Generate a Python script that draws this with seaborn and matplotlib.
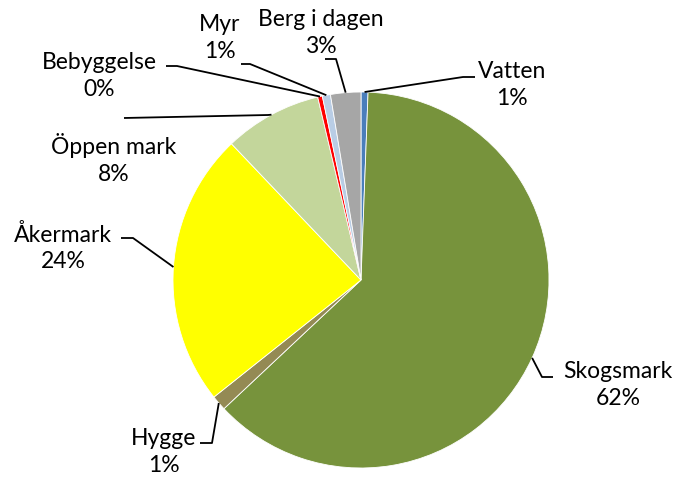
import numpy as np
import matplotlib.pyplot as plt
import seaborn as sns

# Andelar i procent (medurs från kl. 12)
kategorier = ['Vatten', 'Skogsmark', 'Hygge', 'Åkermark', 'Öppen mark',
              'Bebyggelse', 'Myr', 'Berg i dagen']
andelar = [0.6, 62.4, 1.3, 23.6, 8.4, 0.4, 0.7, 2.6]
etiketter = ['1%', '62%', '1%', '24%', '8%', '0%', '1%', '3%']
farger = ['#4a7ebb', '#77933c', '#948a54', '#ffff00', '#c3d69b',
          '#ff0000', '#b9cde5', '#a6a6a6']

# Etikettplacering i pixlar: textcentrum, knäpunkt, ände vid texten
layout = {
    'Vatten':       dict(text=(512, 85), knae=(463, 77), slut=(475, 77)),
    'Skogsmark':    dict(text=(618, 385), knae=(542, 377), slut=(553, 377)),
    'Hygge':        dict(text=(164, 452), knae=(212, 443), slut=(200, 443)),
    'Åkermark':     dict(text=(63, 248), knae=(133, 238), slut=(121, 238)),
    'Öppen mark':   dict(text=(114, 159), knae=(268, 115), slut=(124, 118)),
    'Bebyggelse':   dict(text=(99, 76), knae=(177, 66), slut=(166, 66)),
    'Myr':          dict(text=(220, 38), knae=(250, 64), slut=(241, 64)),
    'Berg i dagen': dict(text=(321, 33), knae=(336, 59), slut=(325, 59)),
}

B, H = 678, 479
cx, cy, r = 361, 280, 188

sns.set_theme(style='white')
plt.rcParams['font.family'] = ['Lato', 'DejaVu Sans']

fig = plt.figure(figsize=(B / 100, H / 100), dpi=100)
ax = fig.add_axes([0, 0, 1, 1])

palett = sns.color_palette(farger)
kilar, _ = ax.pie(andelar, colors=palett, startangle=90, counterclock=False,
                  center=(cx, H - cy), radius=r,
                  wedgeprops=dict(edgecolor='white', linewidth=0.6))
ax.set_xlim(0, B)
ax.set_ylim(0, H)
ax.set_aspect('equal')
ax.axis('off')

for kil, namn, etikett in zip(kilar, kategorier, etiketter):
    mitt = np.deg2rad((kil.theta1 + kil.theta2) / 2)
    ax_ = cx + r * np.cos(mitt)
    ay_ = (H - cy) + r * np.sin(mitt)
    p = layout[namn]
    xs = [ax_, p['knae'][0], p['slut'][0]]
    ys = [ay_, H - p['knae'][1], H - p['slut'][1]]
    ax.plot(xs, ys, color='black', lw=1.3, solid_capstyle='butt')
    ax.text(p['text'][0], H - p['text'][1], f'{namn}\n{etikett}',
            ha='center', va='center', fontsize=16.5, linespacing=1.3,
            color='black')

fig.savefig('out.png', dpi=100)
